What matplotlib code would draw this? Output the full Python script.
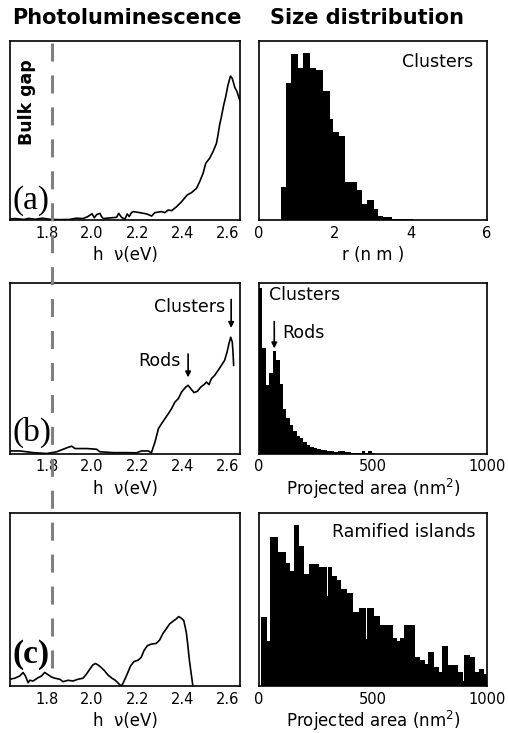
import matplotlib.pyplot as plt
import numpy as np
from matplotlib.lines import Line2D

plt.rcParams["font.family"] = "DejaVu Sans"
plt.rcParams["lines.scale_dashes"] = False

# ---------------------------------------------------------------- data
# photoluminescence spectra (photon energy in eV, normalised intensity)
pl_a_ev = [1.640, 1.660, 1.700, 1.720, 1.750, 1.780, 1.820, 1.860, 1.900, 1.930,
           1.960, 1.980, 2.000, 2.010, 2.020, 2.035, 2.042, 2.050, 2.108, 2.118,
           2.130, 2.145, 2.155, 2.164, 2.174, 2.182, 2.211, 2.241, 2.263, 2.277,
           2.307, 2.321, 2.336, 2.351, 2.373, 2.395, 2.420, 2.439, 2.461, 2.475,
           2.490, 2.502, 2.519, 2.534, 2.549, 2.556, 2.563, 2.571, 2.581, 2.590,
           2.600, 2.611, 2.619, 2.630, 2.640, 2.649, 2.655]
pl_a_int = [0.005, 0.008, 0.003, 0.009, 0.004, 0.010, 0.003, 0.002, 0.003, 0.010,
            0.008, 0.018, 0.035, 0.012, 0.030, 0.037, 0.019, 0.008, 0.015, 0.037,
            0.015, 0.004, 0.034, 0.019, 0.041, 0.047, 0.041, 0.034, 0.022, 0.041,
            0.047, 0.041, 0.056, 0.052, 0.074, 0.102, 0.140, 0.153, 0.177, 0.214,
            0.261, 0.317, 0.345, 0.382, 0.428, 0.475, 0.531, 0.577, 0.642, 0.689,
            0.754, 0.804, 0.791, 0.741, 0.717, 0.680, 0.661]

pl_b_ev = [1.638, 1.682, 1.741, 1.800, 1.844, 1.888, 1.910, 1.925, 1.976, 2.020,
           2.035, 2.094, 2.152, 2.196, 2.218, 2.248, 2.262, 2.278, 2.293, 2.307,
           2.322, 2.337, 2.351, 2.366, 2.381, 2.395, 2.414, 2.424, 2.436, 2.450,
           2.465, 2.480, 2.494, 2.505, 2.516, 2.527, 2.541, 2.556, 2.571, 2.585,
           2.596, 2.604, 2.612, 2.619, 2.622, 2.625]
pl_b_int = [0.015, 0.015, 0.005, 0.000, 0.010, 0.033, 0.043, 0.029, 0.029, 0.025,
            0.010, 0.005, 0.005, 0.004, 0.015, 0.015, 0.004, 0.068, 0.146, 0.175,
            0.205, 0.234, 0.263, 0.302, 0.322, 0.361, 0.390, 0.400, 0.380, 0.357,
            0.365, 0.390, 0.404, 0.419, 0.404, 0.439, 0.458, 0.487, 0.517, 0.546,
            0.595, 0.643, 0.682, 0.653, 0.595, 0.517]

pl_c_ev = [1.637, 1.659, 1.681, 1.696, 1.706, 1.718, 1.725, 1.740, 1.762, 1.777,
           1.791, 1.803, 1.821, 1.836, 1.858, 1.872, 1.894, 1.916, 1.938, 1.960,
           1.975, 1.990, 2.004, 2.015, 2.026, 2.038, 2.056, 2.070, 2.088, 2.103,
           2.117, 2.129, 2.136, 2.147, 2.158, 2.170, 2.185, 2.203, 2.217, 2.229,
           2.244, 2.261, 2.283, 2.298, 2.313, 2.327, 2.342, 2.357, 2.371, 2.382,
           2.393, 2.405, 2.416, 2.423, 2.430, 2.438, 2.445]
pl_c_int = [0.039, 0.045, 0.058, 0.078, 0.058, 0.019, 0.033, 0.029, 0.048, 0.058,
            0.078, 0.068, 0.052, 0.045, 0.039, 0.025, 0.033, 0.029, 0.039, 0.045,
            0.068, 0.097, 0.122, 0.130, 0.122, 0.110, 0.087, 0.064, 0.045, 0.033,
            0.014, 0.000, 0.014, 0.045, 0.078, 0.116, 0.141, 0.149, 0.165, 0.204,
            0.233, 0.242, 0.246, 0.265, 0.304, 0.329, 0.358, 0.374, 0.387, 0.401,
            0.393, 0.378, 0.310, 0.233, 0.145, 0.068, 0.000]

# size distributions (bin edges, normalised counts)
hist_a_edges = [0.57, 0.72, 0.85, 1.03, 1.17, 1.34, 1.51, 1.68, 1.87, 1.95, 2.11,
                2.26, 2.57, 2.72, 2.85, 3.03, 3.14, 3.27, 3.51, 3.68, 4.06]
hist_a_counts = [0.186, 0.764, 0.926, 0.848, 0.935, 0.850, 0.840, 0.720, 0.565,
                 0.490, 0.470, 0.215, 0.165, 0.090, 0.110, 0.060, 0.025, 0.015,
                 0.007, 0.005]

hist_b_width = 15
hist_b_counts = [0.97, 0.62, 0.40, 0.47, 0.60, 0.55, 0.41, 0.26, 0.21, 0.17,
                 0.13, 0.10, 0.09, 0.065, 0.05, 0.04, 0.035, 0.025, 0.02, 0.018,
                 0.015, 0.012, 0.010, 0.012, 0.016, 0.008, 0.006, 0.005, 0.004,
                 0.004, 0.014, 0.004, 0.014, 0.003]

hist_c_edges = [9, 35, 47, 84, 118, 137, 155, 177, 199, 218, 262, 298, 302, 320,
                342, 360, 386, 411, 437, 468, 473, 505, 529, 552, 588, 605, 620,
                634, 686, 708, 730, 740, 766, 788, 803, 829, 849, 873, 893, 899,
                924, 949, 963, 985, 1000]
hist_c_counts = [0.40, 0.26, 0.86, 0.775, 0.71, 0.665, 0.93, 0.81, 0.645, 0.705,
                 0.69, 0.52, 0.685, 0.635, 0.61, 0.56, 0.535, 0.43, 0.45, 0.27,
                 0.45, 0.405, 0.35, 0.355, 0.28, 0.26, 0.28, 0.35, 0.165, 0.15,
                 0.13, 0.195, 0.11, 0.08, 0.23, 0.12, 0.12, 0.08, 0.03, 0.18,
                 0.17, 0.08, 0.10, 0.07]

ev_ticks = [1.8, 2.0, 2.2, 2.4, 2.6]
r_ticks = [0, 2, 4, 6]
area_ticks = [0, 500, 1000]
bulk_gap_ev = 1.823

# ---------------------------------------------------------------- layout
W, H = 508, 733
fig = plt.figure(figsize=(W / 100, H / 100), dpi=100)
fig.patch.set_facecolor("white")

LEFT = (10, 240)
RIGHT = (259, 487)
ROWS = [(41, 220), (283, 453.5), (513, 686)]
LABEL_FS = 12


def panel(xs, ys):
    ax = fig.add_axes([xs[0] / W, 1 - ys[1] / H, (xs[1] - xs[0]) / W, (ys[1] - ys[0]) / H])
    for s in ax.spines.values():
        s.set_linewidth(1.2)
    ax.set_yticks([])
    ax.tick_params(axis="x", length=0, pad=4, labelsize=10.5)
    ax.set_ylim(0, 1)
    return ax


pl_data = [(pl_a_ev, pl_a_int, "(a)", 0.11, "normal"),
           (pl_b_ev, pl_b_int, "(b)", 0.125, "normal"),
           (pl_c_ev, pl_c_int, "(c)", 0.18, "bold")]
pl_axes = []
for (ev, inten, lab, ly, wt), ys in zip(pl_data, ROWS):
    ax = panel(LEFT, ys)
    ax.plot(ev, inten, color="black", lw=1.2)
    ax.set_xlim(1.638, 2.653)
    ax.set_xticks(ev_ticks)
    ax.set_xticklabels([f"{t:.1f}" for t in ev_ticks])
    ax.set_xlabel("h  ν(eV)", fontsize=LABEL_FS, labelpad=4)
    ax.text(0.01, ly, lab, transform=ax.transAxes, family="Liberation Serif",
            fontsize=24, fontweight=wt, va="center", ha="left")
    pl_axes.append(ax)

pl_axes[0].text(0.075, 0.66, "Bulk gap", transform=pl_axes[0].transAxes,
                rotation=90, fontsize=12.5, fontweight="bold", ha="center", va="center")

# peak markers in (b)
axb = pl_axes[1]
axb.annotate("", xy=(2.424, 0.43), xytext=(2.424, 0.60),
             arrowprops=dict(arrowstyle="-|>", lw=1.2, color="black", mutation_scale=8))
axb.text(2.39, 0.54, "Rods", ha="right", va="center", fontsize=12.5)
axb.annotate("", xy=(2.614, 0.72), xytext=(2.614, 0.92),
             arrowprops=dict(arrowstyle="-|>", lw=1.2, color="black", mutation_scale=8))
axb.text(2.588, 0.86, "Clusters", ha="right", va="center", fontsize=12.5)

# size distributions
ax = panel(RIGHT, ROWS[0])
ax.stairs(hist_a_counts, hist_a_edges, fill=True, color="black")
ax.set_xlim(0, 6)
ax.set_xticks(r_ticks)
ax.set_xlabel("r (n m )", fontsize=LABEL_FS, labelpad=4)
ax.text(0.94, 0.88, "Clusters", transform=ax.transAxes, ha="right", va="center",
        fontsize=12.5)

ax = panel(RIGHT, ROWS[1])
edges_b = np.arange(len(hist_b_counts) + 1) * hist_b_width
ax.stairs(hist_b_counts, edges_b, fill=True, color="black")
ax.set_xlim(0, 1000)
ax.set_xticks(area_ticks)
ax.set_xlabel("Projected area (nm$^2$)", fontsize=LABEL_FS, labelpad=2)
ax.text(0.044, 0.93, "Clusters", transform=ax.transAxes, ha="left", va="center",
        fontsize=12.5)
ax.text(0.104, 0.705, "Rods", transform=ax.transAxes, ha="left", va="center",
        fontsize=12.5)
ax.annotate("", xy=(67, 0.60), xytext=(67, 0.79),
            arrowprops=dict(arrowstyle="-|>", lw=1.2, color="black", mutation_scale=8))

ax = panel(RIGHT, ROWS[2])
ax.stairs(hist_c_counts, hist_c_edges, fill=True, color="black")
ax.set_xlim(0, 1000)
ax.set_xticks(area_ticks)
ax.set_xlabel("Projected area (nm$^2$)", fontsize=LABEL_FS, labelpad=2)
ax.text(0.95, 0.89, "Ramified islands", transform=ax.transAxes, ha="right",
        va="center", fontsize=12.5)

# column titles
fig.text(127 / W, 1 - 18 / H, "Photoluminescence", ha="center", va="center",
         fontsize=15, fontweight="bold")
fig.text(367 / W, 1 - 18 / H, "Size distribution", ha="center", va="center",
         fontsize=15, fontweight="bold")

# bulk gap line running through all PL panels
x0 = pl_axes[0].transData.transform((bulk_gap_ev, 0))[0] / W
fig.add_artist(Line2D([x0, x0], [1 - 43 / H, 1 - 677 / H], color="0.5", lw=2.2,
                      linestyle=(0, (13, 10))))

fig.savefig("out.png", dpi=100)
